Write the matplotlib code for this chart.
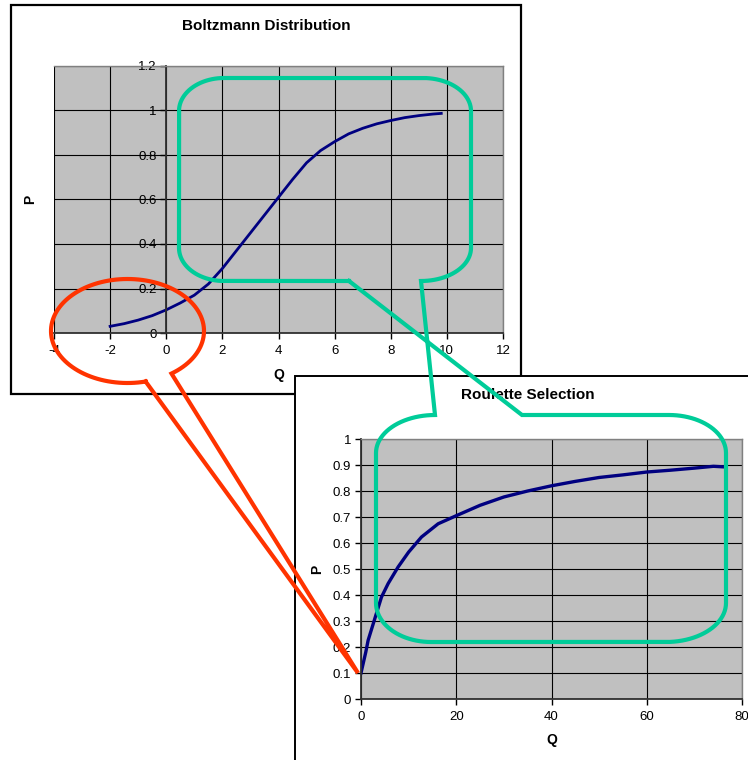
import numpy as np
import matplotlib.pyplot as plt
from matplotlib.patches import Rectangle
from matplotlib.ticker import FuncFormatter, MultipleLocator

plt.rcParams['font.family'] = ['Liberation Sans', 'DejaVu Sans']

# Boltzmann distribution curve
boltz_q = [-2, -1.5, -1, -0.5, 0, 0.5, 1, 1.5, 2, 2.5, 3, 3.5, 4, 4.5,
           5, 5.5, 6, 6.5, 7, 7.5, 8, 8.5, 9, 9.5, 9.8]
boltz_p = [0.03, 0.042, 0.058, 0.078, 0.104, 0.135, 0.17, 0.22, 0.29, 0.37,
           0.45, 0.53, 0.61, 0.69, 0.765, 0.82, 0.86, 0.895, 0.92, 0.94,
           0.955, 0.968, 0.977, 0.984, 0.987]

# Roulette selection curve
roul_q = [0, 1, 1.5, 3, 4.3, 5.7, 7.8, 10, 12.7, 16.2, 20, 25, 30, 35, 40,
          45, 50, 55, 60, 65, 70, 74, 76]
roul_p = [0.10, 0.18, 0.226, 0.315, 0.392, 0.444, 0.508, 0.565, 0.623,
          0.674, 0.705, 0.745, 0.777, 0.80, 0.82, 0.837, 0.852, 0.862,
          0.873, 0.88, 0.888, 0.895, 0.893]

W, H = 748, 760
fig = plt.figure(figsize=(W / 100, H / 100), dpi=100)


def px_axes(l, t, r, b, z):
    return fig.add_axes([l / W, 1 - b / H, (r - l) / W, (b - t) / H], zorder=z)


def fmt(v, pos):
    return f"{round(v, 2):g}"


def style(ax):
    ax.set_facecolor('#C0C0C0')
    ax.grid(True, color='black', lw=0.8)
    ax.set_axisbelow(True)
    for s in ['top', 'right']:
        ax.spines[s].set_color('#808080')
        ax.spines[s].set_linewidth(1.0)
    for s in ['bottom', 'left']:
        ax.spines[s].set_color('#303030')
        ax.spines[s].set_linewidth(1.3)
    ax.tick_params(direction='out', length=4, width=1, labelsize=9.5,
                   pad=3)
    ax.tick_params(axis='x', pad=5)
    ax.yaxis.set_major_formatter(FuncFormatter(fmt))
    ax.xaxis.set_major_formatter(FuncFormatter(fmt))


# background boxes and titles in pixel coordinates
bg = fig.add_axes([0, 0, 1, 1], zorder=0)
bg.set_xlim(0, W)
bg.set_ylim(H, 0)
bg.axis('off')
bg.add_patch(Rectangle((11, 5), 510, 389, fc='white', ec='black', lw=1.6))
bg.add_patch(Rectangle((295, 376), 470, 400, fc='white', ec='black', lw=1.4))
bg.text(266, 26, 'Boltzmann Distribution', fontsize=11, fontweight='bold',
        ha='center', va='center', zorder=5)
bg.text(528, 395, 'Roulette Selection', fontsize=11, fontweight='bold',
        ha='center', va='center', zorder=5)

# top chart
ax1 = px_axes(54, 66, 503, 333, 1)
style(ax1)
ax1.plot(boltz_q, boltz_p, color='#000080', lw=2.0)
ax1.set_xlim(-4, 12)
ax1.set_ylim(0, 1.2)
ax1.xaxis.set_major_locator(MultipleLocator(2))
ax1.yaxis.set_major_locator(MultipleLocator(0.2))
ax1.spines['left'].set_position(('data', 0))
ax1.set_xlabel('Q', fontsize=10, fontweight='bold')
ax1.set_ylabel('P', fontsize=10, fontweight='bold')
ax1.xaxis.set_label_coords(0.501, -0.13)
ax1.yaxis.set_label_coords(-0.037, 0.5)

# bottom chart
ax2 = px_axes(361, 439, 742, 699, 2)
style(ax2)
ax2.plot(roul_q, roul_p, color='#000080', lw=2.4)
ax2.set_xlim(0, 80)
ax2.set_ylim(0, 1)
ax2.xaxis.set_major_locator(MultipleLocator(20))
ax2.yaxis.set_major_locator(MultipleLocator(0.1))
ax2.set_xlabel('Q', fontsize=10, fontweight='bold')
ax2.set_ylabel('P', fontsize=10, fontweight='bold')
ax2.xaxis.set_label_coords(0.5, -0.13)
ax2.yaxis.set_label_coords(-0.096, 0.5)

# callouts on top of everything
ov = fig.add_axes([0, 0, 1, 1], zorder=5)
ov.set_xlim(0, W)
ov.set_ylim(H, 0)
ov.axis('off')
ov.patch.set_alpha(0)


def arc(cx, cy, rx, ry, a0, a1, n=24):
    t = np.radians(np.linspace(a0, a1, n))
    return list(zip(cx + rx * np.cos(t), cy + ry * np.sin(t)))


# green callout pair (top box, twisted tail, bottom box)
L, T, R, B = 179, 78, 471, 281
top = [(349, B)]
top += arc(L + 45, B - 33, 45, 33, 90, 180)
top += arc(L + 45, T + 33, 45, 33, 180, 270)
top += arc(R - 48, T + 33, 48, 33, 270, 360)
top += arc(R - 50, B - 33, 50, 33, 0, 90)

L2, T2, R2, B2 = 376, 415, 726, 642
bot = [(522, T2)]
bot += arc(R2 - 57, T2 + 38, 57, 38, 270, 360)
bot += arc(R2 - 60, B2 - 39, 60, 39, 0, 90)
bot += arc(L2 + 55, B2 - 39, 55, 39, 90, 180)
bot += arc(L2 + 59, T2 + 38, 59, 38, 180, 270)

green = top + bot[::-1] + [top[0]]
gx, gy = zip(*green)
ov.plot(gx, gy, color='#00CC99', lw=3.0, solid_joinstyle='miter')

# red ellipse callout
cx, cy, a, b = 127.5, 331, 76.5, 52
red = arc(cx, cy, a, b, 76.3, 414.9, 120)
red += [(358, 673), red[0]]
rx_, ry_ = zip(*red)
ov.plot(rx_, ry_, color='#FF3300', lw=3.0, solid_joinstyle='miter')

fig.savefig('out.png', dpi=100)
